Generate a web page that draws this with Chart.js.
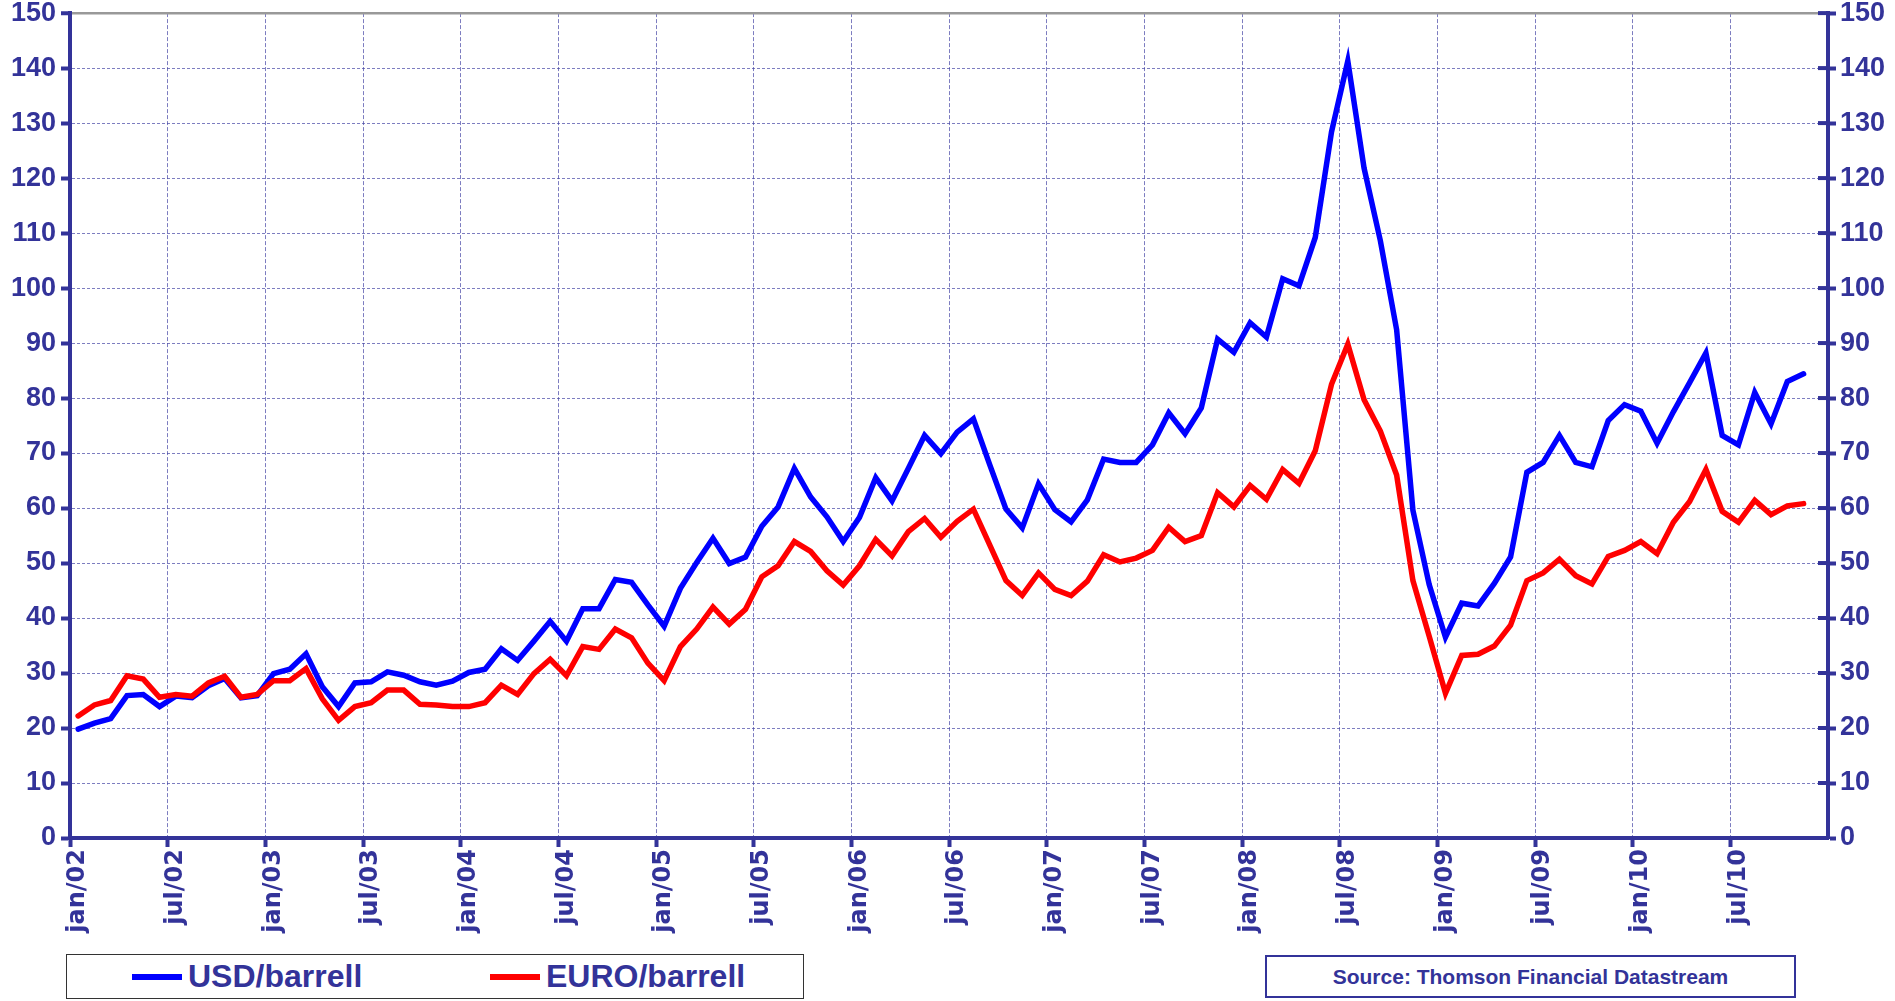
<!DOCTYPE html>
<html>
<head>
<meta charset="utf-8">
<script src="https://cdn.jsdelivr.net/npm/chart.js@4/dist/chart.umd.min.js"></script>
<style>
html,body{margin:0;padding:0;background:#fff;width:1895px;height:1001px;overflow:hidden}
#wrap{position:absolute;left:0;top:0;width:1895px;height:1001px}
#legend{position:absolute;left:66px;top:954px;width:738px;height:45px;border:1.5px solid #333;box-sizing:border-box;font:bold 32px 'Liberation Sans',Arial,sans-serif;color:#333399;background:#fff}
.item{position:absolute;top:0;height:100%;display:flex;align-items:center;white-space:nowrap}
.sw{display:inline-block;width:50px;height:6px;margin-right:6px}
#source{position:absolute;left:1265px;top:955px;width:531px;height:43px;border:2.5px solid #333399;box-sizing:border-box;font:bold 21px 'Liberation Sans',Arial,sans-serif;color:#333399;display:flex;align-items:center;justify-content:center;background:#fff}
</style>
</head>
<body>
<div id="wrap"><canvas id="c"></canvas></div>
<div id="legend"></div>
<div id="source">Source: Thomson Financial Datastream</div>
<script>
// ---- data ----
const monthNames = ['jan','feb','mar','apr','may','jun','jul','aug','sep','oct','nov','dec'];
const yearLabels = ['02','03','04','05','06','07','08','09','10'];
const categories = yearLabels.flatMap(y => monthNames.map(m => m + '/' + y));
const shownTickMonths = ['jan','jul'];

const seriesNames = ['USD/barrell', 'EURO/barrell'];
const seriesColors = ['#0000ff', '#ff0000'];

const usdPerBarrel = [
  19.8, 20.9, 21.7, 25.9, 26.1, 23.9, 25.8, 25.5, 27.7, 29.0, 25.5, 25.9,
  29.9, 30.7, 33.5, 27.5, 23.9, 28.2, 28.4, 30.2, 29.6, 28.4, 27.8, 28.5,
  30.1, 30.7, 34.4, 32.3, 35.8, 39.4, 35.8, 41.7, 41.7, 47.0, 46.5, 42.4,
  38.5, 45.4, 50.1, 54.5, 49.9, 51.1, 56.7, 60.2, 67.2, 62.0, 58.4, 53.9,
  58.3, 65.5, 61.3, 67.2, 73.2, 69.9, 73.8, 76.2, 67.9, 59.8, 56.4, 64.4,
  59.7, 57.5, 61.5, 68.9, 68.3, 68.3, 71.5, 77.3, 73.5, 78.2, 90.7, 88.3,
  93.7, 91.1, 101.7, 100.4, 109.2, 128.4, 141.3, 121.8, 108.6, 92.4, 59.6, 46.1,
  36.5, 42.7, 42.2, 46.3, 51.1, 66.5, 68.3, 73.2, 68.3, 67.5, 75.9, 78.8,
  77.6, 71.8, 77.5, 82.8, 88.2, 73.2, 71.5, 81.0, 75.3, 83.0, 84.4
];
const euroPerBarrel = [
  22.2, 24.2, 25.0, 29.5, 28.9, 25.6, 26.1, 25.8, 28.2, 29.4, 25.6, 26.1,
  28.6, 28.6, 30.8, 25.3, 21.4, 23.9, 24.6, 26.9, 26.9, 24.3, 24.2, 23.9,
  23.9, 24.6, 27.8, 26.1, 29.9, 32.5, 29.5, 34.8, 34.3, 38.0, 36.4, 31.8,
  28.6, 34.8, 38.0, 42.0, 38.9, 41.6, 47.5, 49.5, 53.9, 52.1, 48.6, 46.0,
  49.5, 54.3, 51.3, 55.7, 58.1, 54.7, 57.6, 59.8, 53.3, 46.8, 44.1, 48.2,
  45.2, 44.1, 46.7, 51.5, 50.2, 50.9, 52.3, 56.5, 53.9, 55.0, 62.8, 60.2,
  64.1, 61.6, 67.0, 64.5, 70.4, 82.5, 89.8, 79.7, 74.0, 66.0, 46.8, 36.7,
  26.3, 33.2, 33.4, 34.9, 38.7, 46.8, 48.2, 50.7, 47.7, 46.2, 51.2, 52.3,
  53.9, 51.7, 57.4, 61.2, 67.0, 59.4, 57.4, 61.4, 58.8, 60.4, 60.8
];
const yMin = 0, yMax = 150, yStep = 10;

// ---- styles ----
const AXIS = '#333399';
const GRID = 'rgba(70,70,165,0.7)';
const FONT_Y = "'Liberation Sans Narrow', 'Arial Narrow', 'Liberation Sans', Arial, sans-serif";
const FONT_X = "'DejaVu Sans', 'Liberation Sans', Arial, sans-serif";
const isShown = i => {
  if (typeof i !== 'number') return false;
  if (i === categories.length) return true;
  const c = categories[i];
  return c !== undefined && shownTickMonths.includes(c.split('/')[0]);
};

const rightInnerTicks = {
  id: 'rightInnerTicks',
  afterDraw(chart) {
    const s = chart.scales.y2, c = chart.ctx;
    c.save();
    c.strokeStyle = AXIS; c.lineWidth = 4;
    s.ticks.forEach((t, i) => {
      const y = s.getPixelForTick(i);
      c.beginPath(); c.moveTo(s.left - 10, y); c.lineTo(s.left, y); c.stroke();
    });
    c.restore();
  }
};

// legend
const lg = document.getElementById('legend');
const itemLeft = [65, 423];
seriesNames.forEach((n, i) => {
  const d = document.createElement('div');
  d.className = 'item'; d.style.left = itemLeft[i] + 'px';
  d.innerHTML = '<span class="sw" style="background:' + seriesColors[i] + '"></span>' + n;
  lg.appendChild(d);
});

new Chart(document.getElementById('c'), {
  type: 'line',
  data: {
    labels: categories,
    datasets: [
      { label: seriesNames[0], data: usdPerBarrel, borderColor: seriesColors[0], order: 1 },
      { label: seriesNames[1], data: euroPerBarrel, borderColor: seriesColors[1], order: 0 }
    ]
  },
  options: {
    responsive: true,
    maintainAspectRatio: false,
    animation: false,
    events: [],
    layout: { padding: { top: 7, left: 0, right: 0, bottom: 0 } },
    elements: {
      line: { borderWidth: 5.5, tension: 0, borderCapStyle: 'round', borderJoinStyle: 'miter', fill: false },
      point: { radius: 0 }
    },
    plugins: { legend: { display: false }, tooltip: { enabled: false } },
    scales: {
      x: {
        type: 'category',
        offset: true,
        afterFit(s) { s.height = 163; },
        border: { display: true, color: AXIS, width: 4, dash: [4, 2] },
        grid: {
          offset: true,
          drawOnChartArea: true,
          color: ctx => isShown(ctx.index) ? GRID : 'rgba(0,0,0,0)',
          tickColor: ctx => isShown(ctx.index) ? AXIS : 'rgba(0,0,0,0)',
          lineWidth: 1,
          tickLength: 9,
          tickWidth: 4
        },
        ticks: {
          autoSkip: false,
          minRotation: 90,
          maxRotation: 90,
          padding: 2,
          color: AXIS,
          font: { family: FONT_X, size: 24, weight: 'bold' },
          callback: (v, i) => isShown(i) && i < categories.length ? categories[i] : ''
        }
      },
      y: {
        position: 'left',
        min: yMin, max: yMax,
        afterFit(s) { s.width = 70; },
        border: { display: true, color: AXIS, width: 4, dash: ctx => (ctx.tick && ctx.tick.value === yMax) ? [] : [3, 2] },
        grid: {
          color: ctx => (ctx.tick && ctx.tick.value === yMax) ? '#999999' : GRID,
          lineWidth: ctx => (ctx.tick && ctx.tick.value === yMax) ? 2.5 : 1,
          tickColor: AXIS,
          tickLength: 9,
          tickWidth: 4
        },
        ticks: {
          stepSize: yStep,
          padding: 5,
          color: AXIS,
          font: { family: FONT_Y, size: 27, weight: 'bold', lineHeight: 0.6 }
        }
      },
      y2: {
        position: 'right',
        min: yMin, max: yMax,
        afterFit(s) { s.width = 67; },
        border: { display: true, color: AXIS, width: 4 },
        grid: { drawOnChartArea: false, tickColor: AXIS, tickLength: 8, tickWidth: 4 },
        ticks: {
          stepSize: yStep,
          padding: 4,
          color: AXIS,
          font: { family: FONT_Y, size: 27, weight: 'bold', lineHeight: 0.6 }
        }
      }
    }
  },
  plugins: [rightInnerTicks]
});
</script>
</body>
</html>
